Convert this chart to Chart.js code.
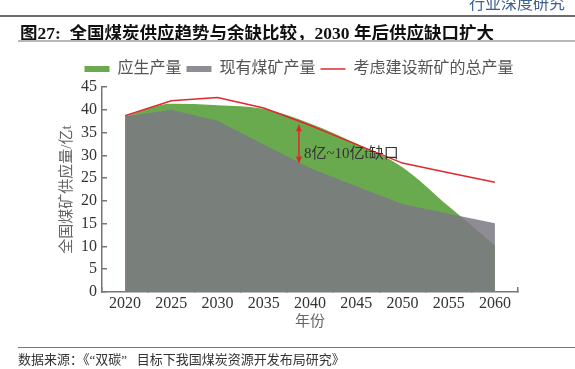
<!DOCTYPE html>
<html>
<head>
<meta charset="utf-8">
<script src="https://cdn.jsdelivr.net/npm/chart.js@4.4.1/dist/chart.umd.min.js"></script>
<style>
  body { margin: 0; width: 575px; height: 369px; overflow: hidden; background: #fff; position: relative;
         font-family: "Liberation Serif", "Noto Sans CJK SC", serif; }
  #chart { position: absolute; left: 0; top: 0; }
  #brand { position: absolute; right: 10px; top: -10px; font-size: 16px; color: #3d5f93; }
  #topline { position: absolute; left: 0; right: 0; top: 15px; height: 2px; background: #6b6b6b; }
  #title { position: absolute; left: 20px; top: 19px; font-size: 17.5px; font-weight: bold; color: #111; white-space: nowrap; }
  #titleline { position: absolute; left: 18px; right: 0; top: 40px; height: 2px; background: #b8b8b8; }
  #srcline { position: absolute; left: 18px; right: 0; top: 347px; height: 1px; background: #777; }
  #source { position: absolute; left: 18px; top: 349px; font-size: 13px; color: #333; white-space: nowrap; }
</style>
</head>
<body>
<canvas id="chart" width="575" height="369"></canvas>
<div id="brand">行业深度研究</div>
<div id="topline"></div>
<div id="title">图27:&nbsp; 全国煤炭供应趋势与余缺比较，2030 年后供应缺口扩大</div>
<div id="titleline"></div>
<div id="srcline"></div>
<div id="source">数据来源：《“双碳”&nbsp;&nbsp; 目标下我国煤炭资源开发布局研究》</div>
<script>
// Years on the x axis
const years = ["2020", "2025", "2030", "2035", "2040", "2045", "2050", "2055", "2060"];

// Series values (亿t)
const shouldProduce = [38.5, 41.3, 41.0, 40.2, 37.0, 32.6, 27.4, 18.8, 10.2];
const existingMines = [38.5, 40.0, 37.6, 32.4, 27.2, 23.2, 19.3, 17.2, 15.1];
const withNewMines = [38.7, 42.0, 42.7, 40.4, 36.6, 32.4, 28.3, 26.2, 24.1];

// Series names
const seriesNames = ["应生产量", "现有煤矿产量", "考虑建设新矿的总产量"];

// y axis range
const yMin = 0;
const yMax = 45;
const yStep = 5;

// Gap annotation: year, top and bottom of the arrow, label
const gapYear = 2038.8;
const gapRange = [36.8, 28.2];
const gapLabel = "8亿~10亿t缺口";
const gapLabelValue = 30.3;

const serif = "'Liberation Serif', 'Noto Sans CJK SC', serif";

// Draws the red gap arrow and its label, and nudges the legend right
const gapNote = {
  id: "gapNote",
  afterLayout(chart) {
    chart.legend.left += 15;
    chart.legend.right += 15;
  },
  afterDatasetsDraw(chart) {
    const { ctx, scales: { x, y } } = chart;
    const idx = (gapYear - Number(years[0])) / 5;
    const px = x.getPixelForValue(idx);
    const yTop = y.getPixelForValue(gapRange[0]);
    const yBot = y.getPixelForValue(gapRange[1]);
    const head = 7;
    ctx.save();
    ctx.strokeStyle = "#e0262b";
    ctx.fillStyle = "#e0262b";
    ctx.lineWidth = 1.5;
    ctx.beginPath();
    ctx.moveTo(px, yTop + head);
    ctx.lineTo(px, yBot - head);
    ctx.stroke();
    ctx.beginPath();
    ctx.moveTo(px, yTop);
    ctx.lineTo(px - 3, yTop + head);
    ctx.lineTo(px + 3, yTop + head);
    ctx.closePath();
    ctx.fill();
    ctx.beginPath();
    ctx.moveTo(px, yBot);
    ctx.lineTo(px - 3, yBot - head);
    ctx.lineTo(px + 3, yBot - head);
    ctx.closePath();
    ctx.fill();
    ctx.fillStyle = "#333";
    ctx.font = "15px " + serif;
    ctx.textBaseline = "middle";
    ctx.fillText(gapLabel, px + 5, y.getPixelForValue(gapLabelValue));
    ctx.restore();
  },
};

const ctx = document.getElementById("chart").getContext("2d");
new Chart(ctx, {
  type: "line",
  data: {
    labels: years,
    datasets: [
      {
        label: seriesNames[0],
        data: shouldProduce,
        backgroundColor: "#6aaa4f",
        borderWidth: 0,
        fill: "origin",
        cubicInterpolationMode: "monotone",
        pointRadius: 0,
        pointStyle: "rect",
        order: 2,
      },
      {
        label: seriesNames[1],
        data: existingMines,
        backgroundColor: "rgba(124, 121, 132, 0.86)",
        borderWidth: 0,
        fill: "origin",
        pointRadius: 0,
        pointStyle: "rect",
        order: 1,
      },
      {
        label: seriesNames[2],
        data: withNewMines,
        borderColor: "#e0282d",
        backgroundColor: "#e0282d",
        borderWidth: 1.5,
        fill: false,
        pointRadius: 0,
        pointStyle: "line",
        order: 0,
      },
    ],
  },
  options: {
    responsive: false,
    animation: false,
    devicePixelRatio: 1,
    layout: { padding: { left: 50, right: 57, top: 56, bottom: 38 } },
    plugins: {
      tooltip: { enabled: false },
      legend: {
        position: "top",
        labels: {
          usePointStyle: true,
          pointStyleWidth: 25,
          boxHeight: 6,
          padding: 5,
          color: "#555",
          font: { size: 16, family: serif },
          sort: (a, b) => a.datasetIndex - b.datasetIndex,
        },
      },
    },
    scales: {
      x: {
        type: "category",
        offset: true,
        grid: { offset: true, drawOnChartArea: false, tickLength: -5, color: "#777", lineWidth: 1.5 },
        border: { color: "#777", width: 1.5 },
        ticks: { padding: 7, color: "#333", font: { size: 16, family: serif }, maxRotation: 0, autoSkip: false },
        title: { display: true, text: "年份", color: "#666", font: { size: 15, family: serif }, padding: { top: 0, bottom: 0 } },
        afterFit: (scale) => { scale.height = 39; },
      },
      y: {
        min: yMin,
        max: yMax,
        grid: { drawOnChartArea: false, tickLength: -5, color: "#777", lineWidth: 1.5 },
        border: { color: "#777", width: 1.5 },
        ticks: { stepSize: yStep, padding: 10, color: "#333", font: { size: 16, family: serif } },
        title: { display: true, text: "全国煤矿供应量/亿t", color: "#666", font: { size: 15, family: serif }, padding: { top: 8, bottom: 0 } },
        afterFit: (scale) => { scale.width = 52; },
      },
    },
  },
  plugins: [gapNote],
});
</script>
</body>
</html>
